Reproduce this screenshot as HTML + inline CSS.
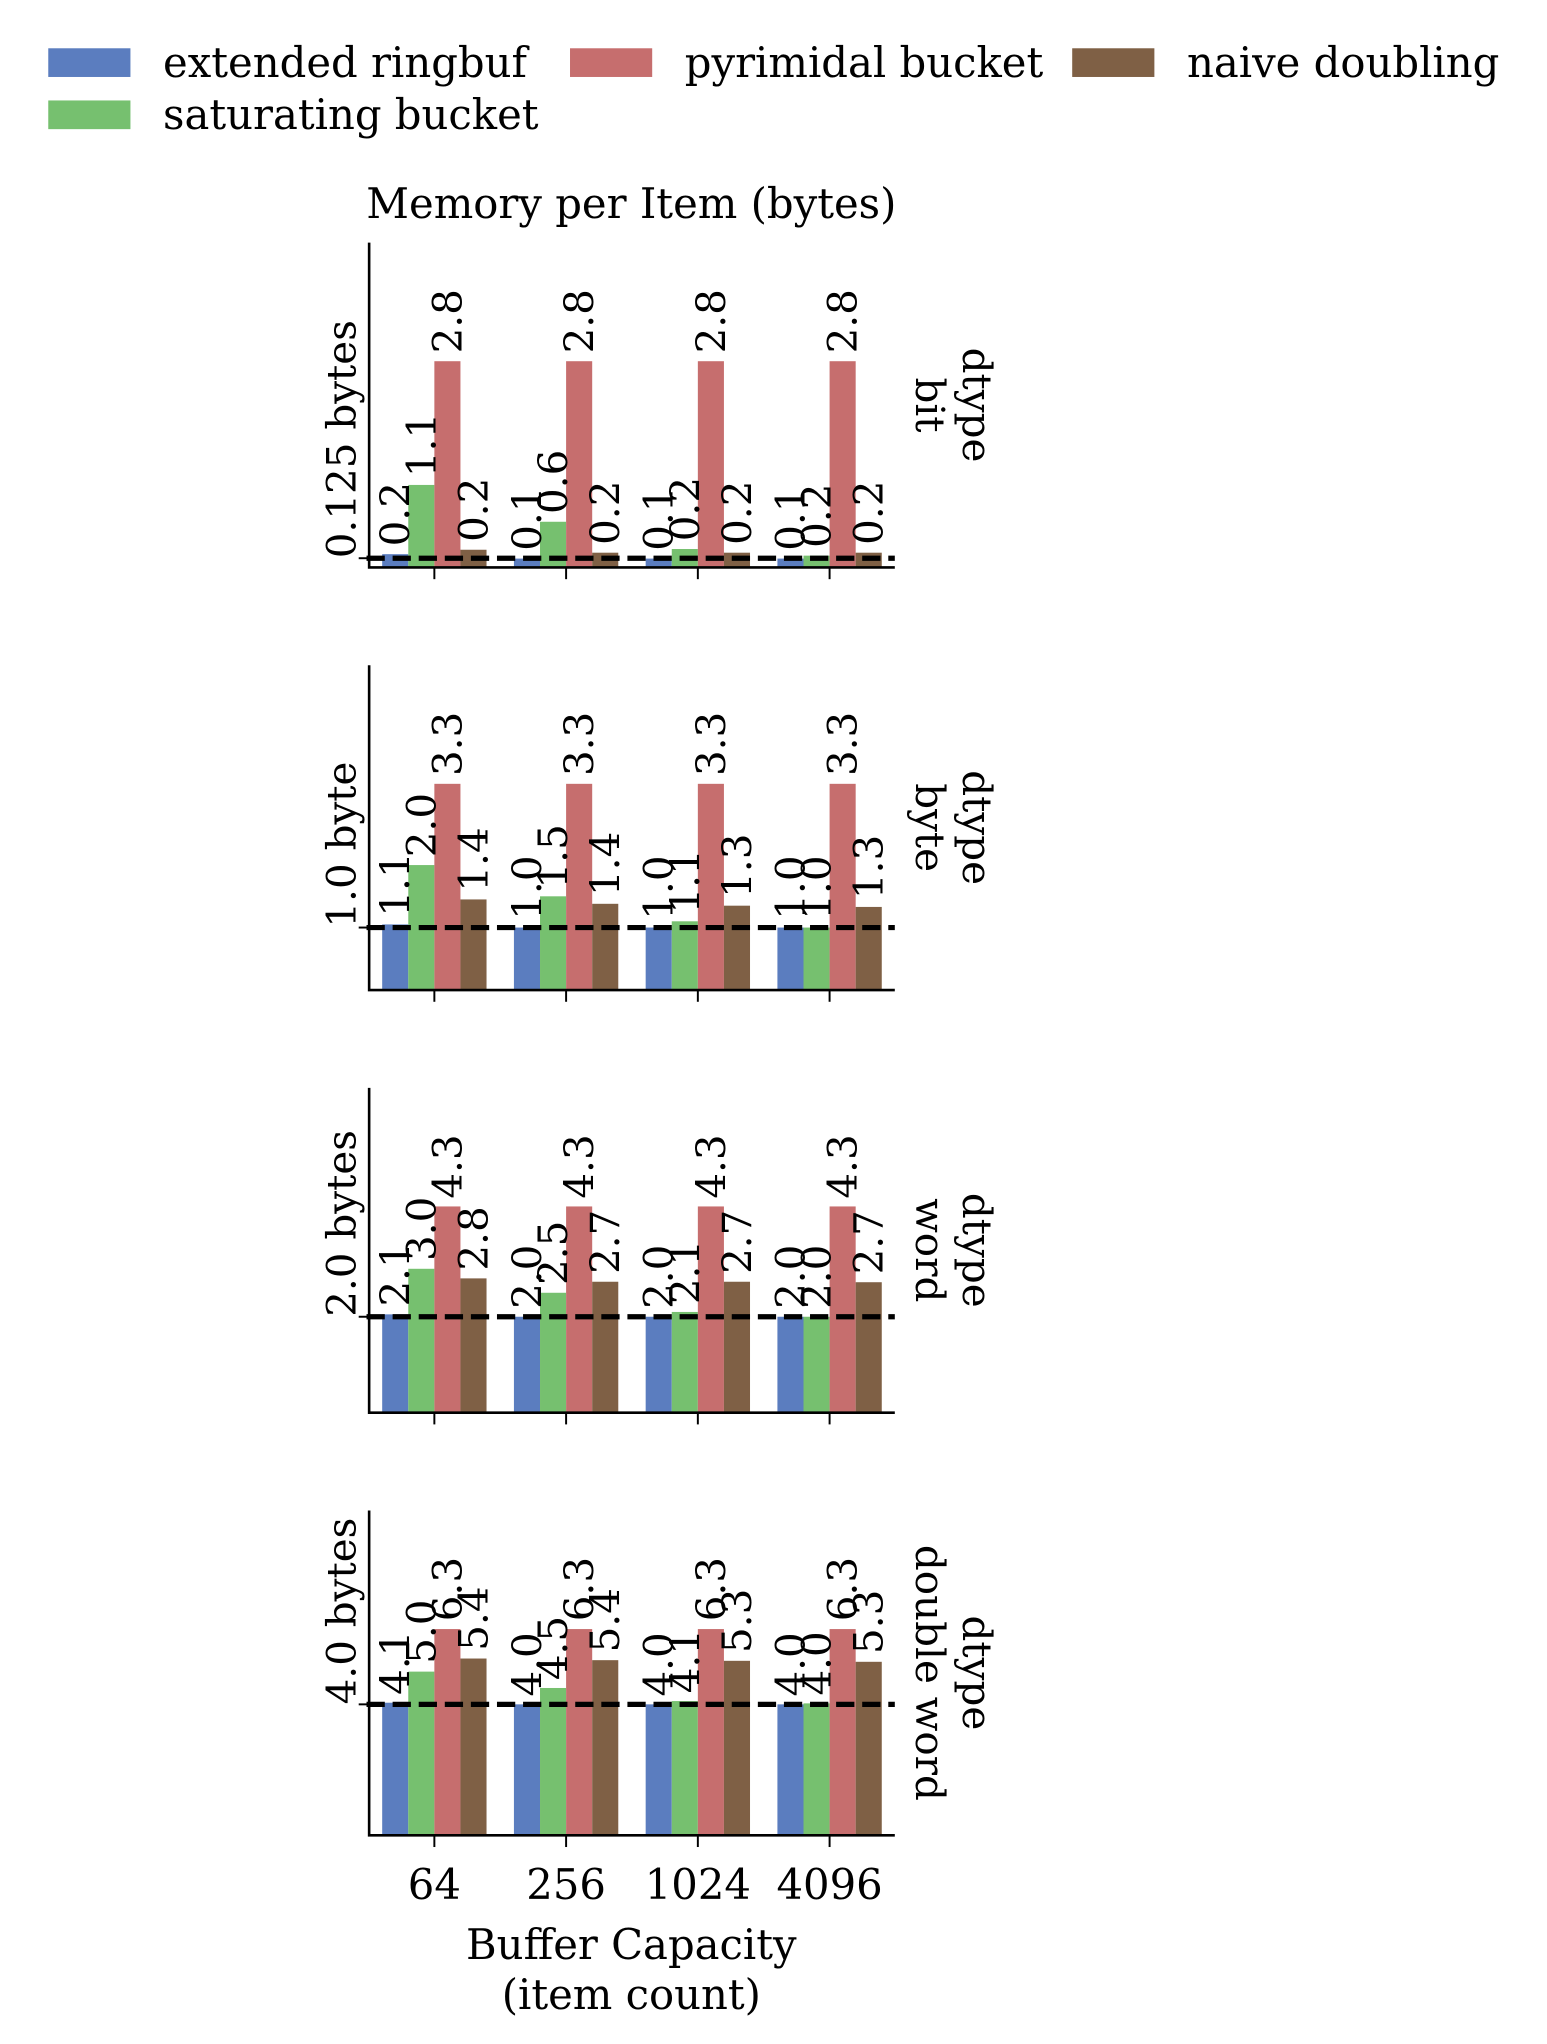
<!DOCTYPE html>
<html><head><meta charset="utf-8"><style>
html,body{margin:0;padding:0;background:#fff}
svg{display:block}
text{font-family:"DejaVu Serif","Liberation Serif",serif;fill:#000}
</style></head><body>
<svg id="chart" width="1547" height="2044" viewBox="0 0 1186 1567" xmlns="http://www.w3.org/2000/svg">
<g id="legend"></g>
<text x="484" y="167" text-anchor="middle" font-size="32">Memory per Item (bytes)</text>
<g id="panels"></g>
<text x="484" y="1502" text-anchor="middle" font-size="32">Buffer Capacity</text>
<text x="484" y="1540" text-anchor="middle" font-size="32">(item count)</text>
</svg>
<script>
const categories = ["64","256","1024","4096"];
const seriesNames = ["extended ringbuf","saturating bucket","pyrimidal bucket","naive doubling"];
const seriesColors = ["#5b7dbf","#76c06f","#c66e6e","#7f6045"];
const dtypes = ["bit","byte","word","double word"];
const refValues = [0.125, 1.0, 2.0, 4.0];
const refLabels = ["0.125 bytes","1.0 byte","2.0 bytes","4.0 bytes"];
const bitValues = [[0.18,0.12,0.12,0.12],[1.12,0.62,0.25,0.16],[2.8,2.8,2.8,2.8],[0.24,0.2,0.2,0.2]];
const bitLabels = [["0.2","0.1","0.1","0.1"],["1.1","0.6","0.2","0.2"],["2.8","2.8","2.8","2.8"],["0.2","0.2","0.2","0.2"]];
const byteValues = [[1.05,1.0,1.0,1.0],[2.0,1.5,1.1,1.0],[3.3,3.3,3.3,3.3],[1.45,1.38,1.35,1.33]];
const byteLabels = [["1.1","1.0","1.0","1.0"],["2.0","1.5","1.1","1.0"],["3.3","3.3","3.3","3.3"],["1.4","1.4","1.3","1.3"]];
const wordValues = [[2.05,2.0,2.0,2.0],[3.0,2.5,2.1,2.0],[4.3,4.3,4.3,4.3],[2.8,2.73,2.73,2.72]];
const wordLabels = [["2.1","2.0","2.0","2.0"],["3.0","2.5","2.1","2.0"],["4.3","4.3","4.3","4.3"],["2.8","2.7","2.7","2.7"]];
const dwordValues = [[4.05,4.0,4.0,4.0],[5.0,4.5,4.1,4.03],[6.3,6.3,6.3,6.3],[5.4,5.35,5.33,5.3]];
const dwordLabels = [["4.1","4.0","4.0","4.0"],["5.0","4.5","4.1","4.0"],["6.3","6.3","6.3","6.3"],["5.4","5.4","5.3","5.3"]];
const allValues = [bitValues, byteValues, wordValues, dwordValues];
const allLabels = [bitLabels, byteLabels, wordLabels, dwordLabels];

const NS = "http://www.w3.org/2000/svg";
function mk(tag, attrs, parent){const e=document.createElementNS(NS,tag);for(const k in attrs)e.setAttribute(k,attrs[k]);parent.appendChild(e);return e;}

const lg = document.getElementById('legend');
const legPos = [[37,46],[437,46],[822,46],[37,86]];
const legOrder = [0,2,3,1];
legOrder.forEach((si,i)=>{
  const [x,y]=legPos[i];
  const r = mk('rect',{x:x,y:y-9,width:63,height:22,fill:seriesColors[si]},lg);
  
  
  const t = mk('text',{x:x+88,y:y+13,'font-size':32},lg);
  t.textContent = seriesNames[si];
  
  
});

const pg = document.getElementById('panels');
const X0=283, X1=686, PH=249;
const tops=[186,510,834,1158];
const groupStart=293, groupStep=101, barW=20;
function xBar(ci,si){return groupStart+ci*groupStep+si*barW;}
function xCenter(ci){return groupStart+ci*groupStep+2*barW;}

dtypes.forEach((dt,pi)=>{
  const vals=allValues[pi], labs=allLabels[pi];
  const top=tops[pi], bot=top+PH;
  let mx=0; vals.forEach(s=>s.forEach(v=>{if(v>mx)mx=v;}));
  const ymax=mx*1.575;
  const y=v=>bot-v/ymax*PH;
  const g=mk('g',{},pg);
  
  
  vals.forEach((s,si)=>s.forEach((v,ci)=>{
    const r=mk('rect',{x:xBar(ci,si),y:y(v),width:barW,height:bot-y(v),fill:seriesColors[si]},g);
    
    
  }));
  vals.forEach((s,si)=>s.forEach((v,ci)=>{
    const cx=xBar(ci,si)+barW/2, ty=y(v)-6;
    const t=mk('text',{x:cx,y:ty,'font-size':31,transform:'rotate(-90 '+cx+' '+ty+')','dominant-baseline':'central'},g);
    t.textContent=labs[si][ci];
    
    
  }));
  const ry=y(refValues[pi]);
  const dl=mk('line',{x1:X0-2,x2:X1,y1:ry,y2:ry,stroke:'#000','stroke-width':4,'stroke-dasharray':'14,6'},g);
  
  
  const ax=mk('path',{d:'M'+X0+' '+top+' V'+bot+' H'+X1,fill:'none',stroke:'#000','stroke-width':2},g);
  
  
  mk('line',{x1:X0-8,x2:X0,y1:ry,y2:ry,stroke:'#000','stroke-width':1.5},g);
  const yl=mk('text',{x:262,y:ry,'font-size':31,'text-anchor':'start','dominant-baseline':'central',transform:'rotate(-90 262 '+ry+')'},g);
  yl.textContent=refLabels[pi];
  
  
  categories.forEach((c,ci)=>{
    mk('line',{x1:xCenter(ci),x2:xCenter(ci),y1:bot,y2:bot+9,stroke:'#000','stroke-width':1.5},g);
    if(pi===3){
      const t=mk('text',{x:xCenter(ci),y:1456,'font-size':32,'text-anchor':'middle'},g);
      t.textContent=c;
      
      
    }
  });
  const my=(top+bot)/2;
  const t1=mk('text',{x:749,y:my,'font-size':31,'text-anchor':'middle','dominant-baseline':'central',transform:'rotate(90 749 '+my+')'},g);
  t1.textContent='dtype';
  
  
  const t2=mk('text',{x:713,y:my,'font-size':31,'text-anchor':'middle','dominant-baseline':'central',transform:'rotate(90 713 '+my+')'},g);
  t2.textContent=dt;
  
  
});
</script>
</body></html>
